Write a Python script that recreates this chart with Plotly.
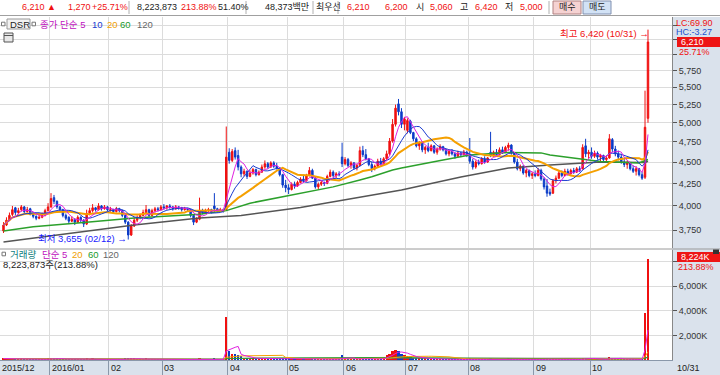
import plotly.graph_objects as go
import pandas as pd
import numpy as np

# ---------------- data ----------------
month_labels = ["2015/12", "2016/01", "02", "03", "04", "05", "06", "07", "08", "09", "10"]
month_days = [16, 20, 18, 22, 20, 19, 21, 21, 22, 19, 20]
last_label = "10/31"

opens = [3740,3800,3850,3910,3980,3930,3960,3990,3940,3970,3910,3890,3870,3880,3900,3950,
         3990,4090,4050,3990,3960,3900,3880,3840,3860,3830,3880,3850,3810,3920,3950,3980,3960,4000,3970,3990,
         3950,3960,3940,3970,3950,3900,3830,3700,3790,3850,3880,3900,3930,3960,3900,3950,3970,3960,
         3990,3980,4000,3990,3970,3990,3980,3960,3970,3960,3900,3830,3860,3950,3930,3950,3960,4000,3970,3950,3960,3960,
         4620,4520,4640,4580,4440,4360,4390,4330,4370,4410,4350,4380,4440,4480,4440,4490,4450,4430,4350,4230,
         4200,4180,4240,4220,4260,4300,4280,4340,4400,4310,4210,4240,4260,4250,4330,4380,4340,4360,4560,
         4480,4530,4460,4490,4430,4460,4640,4590,4540,4470,4420,4450,4510,4480,4540,4600,4760,4980,5260,5150,4980,
         4900,5020,4870,4790,4700,4740,4650,4680,4640,4700,4620,4660,4690,4650,4600,4630,4600,4570,4610,4590,4620,
         4580,4510,4440,4500,4480,4540,4500,4620,4580,4620,4590,4650,4620,4680,4710,4610,4500,4420,4450,4370,4400,4340,
         4360,4340,4400,4300,4220,4150,4140,4280,4310,4370,4340,4390,4360,4400,4380,4420,4420,4700,4600,
         4620,4570,4610,4560,4580,4530,4550,4780,4660,4600,4560,4500,4470,4490,4420,4390,4420,4350,4320,5060]
highs = [3830,3880,3930,4000,3990,3980,4010,4000,3990,3980,3930,3900,3910,3930,3970,4030,
         4140,4120,4060,4000,3970,3920,3890,3890,3870,3900,3890,3860,3960,3980,4020,3990,4030,4010,4010,4000,
         3990,3970,3990,3980,3960,3910,3840,3810,3880,3900,3920,3960,4010,3970,3970,3990,3990,4010,
         4020,4010,4020,4000,4010,4000,3990,3990,3980,3970,3910,3880,4090,3970,3970,3980,3970,4140,3980,3980,3970,4950,
         4670,4660,4680,4650,4460,4420,4400,4400,4430,4420,4400,4470,4520,4500,4510,4510,4490,4440,4360,4290,
         4240,4260,4270,4280,4320,4350,4360,4440,4420,4320,4260,4280,4270,4350,4410,4400,4380,4390,4740,
         4560,4550,4510,4500,4480,4690,4700,4660,4550,4500,4470,4540,4550,4560,4640,4800,5050,5250,5330,5200,5080,
         5060,5040,4880,4810,4760,4760,4700,4740,4720,4710,4680,4720,4700,4660,4650,4660,4620,4640,4630,4650,4640,
         4800,4540,4520,4530,4560,4570,4560,4880,4640,4660,4680,4690,4700,4740,4720,4620,4540,4470,4460,4420,4410,4380,
         4400,4430,4420,4320,4300,4190,4300,4340,4400,4400,4420,4420,4420,4430,4440,4450,4720,4790,4650,
         4680,4640,4630,4600,4590,4580,4850,4800,4700,4640,4600,4540,4520,4500,4460,4450,4430,4380,5450,6420]
lows = [3720,3790,3840,3890,3900,3910,3940,3920,3930,3900,3870,3850,3860,3870,3890,3940,
        3980,4020,3970,3940,3880,3850,3810,3830,3800,3820,3830,3780,3800,3900,3930,3940,3950,3950,3960,3940,
        3940,3920,3930,3930,3880,3810,3655,3690,3780,3830,3860,3890,3920,3880,3890,3930,3940,3950,
        3960,3960,3970,3950,3960,3960,3940,3950,3940,3880,3800,3820,3850,3910,3920,3930,3920,3930,3930,3940,3930,3950,
        4480,4500,4530,4400,4320,4330,4300,4320,4350,4330,4340,4370,4420,4420,4430,4430,4410,4330,4200,4150,
        4130,4170,4190,4210,4250,4260,4270,4330,4300,4190,4180,4220,4220,4240,4320,4320,4310,4330,4440,
        4460,4440,4420,4410,4400,4450,4560,4520,4450,4380,4400,4440,4460,4470,4530,4580,4740,4950,5100,4930,4900,
        4860,4850,4760,4680,4650,4620,4600,4620,4630,4600,4590,4640,4630,4580,4570,4580,4540,4560,4560,4580,4560,
        4480,4410,4420,4460,4470,4480,4490,4560,4560,4570,4580,4600,4610,4640,4590,4480,4400,4390,4350,4320,4320,4300,
        4320,4330,4280,4180,4100,4110,4130,4250,4300,4320,4330,4340,4350,4360,4370,4380,4410,4560,4540,
        4540,4550,4530,4500,4510,4510,4540,4620,4570,4520,4480,4440,4420,4400,4370,4340,4330,4290,4300,5000]
closes = [3800,3850,3900,3960,3930,3950,3990,3940,3960,3910,3890,3870,3880,3900,3950,3990,
          4080,4050,3990,3960,3900,3870,3840,3860,3830,3880,3850,3810,3920,3950,3980,3960,4000,3970,3990,3960,
          3960,3940,3970,3950,3900,3830,3700,3790,3850,3880,3900,3930,3960,3900,3950,3970,3960,3990,
          3980,4000,3990,3970,3990,3980,3960,3970,3960,3900,3830,3860,3950,3930,3950,3960,3940,3970,3950,3960,3940,4560,
          4520,4630,4560,4440,4360,4390,4330,4370,4410,4350,4380,4440,4480,4440,4490,4450,4430,4350,4230,4200,
          4180,4240,4220,4260,4300,4280,4340,4400,4310,4210,4240,4260,4250,4330,4380,4340,4360,4350,4480,
          4530,4460,4490,4430,4460,4640,4590,4540,4470,4420,4450,4510,4480,4540,4600,4760,4980,5200,5150,4980,5050,
          5030,4870,4790,4700,4740,4650,4680,4640,4700,4620,4660,4690,4650,4600,4630,4600,4570,4610,4590,4620,4580,
          4510,4440,4500,4480,4540,4500,4550,4580,4620,4590,4650,4620,4680,4710,4610,4500,4420,4450,4370,4400,4340,4360,
          4340,4400,4300,4210,4140,4130,4280,4310,4370,4340,4390,4360,4400,4380,4420,4400,4680,4600,4620,
          4570,4610,4560,4580,4530,4550,4790,4660,4600,4560,4500,4470,4490,4420,4390,4420,4350,4310,4940,6210]
volumes_k = [120,90,100,130,80,60,90,70,50,60,50,40,40,50,70,90,
             180,120,90,70,80,60,70,50,60,60,50,70,130,80,90,50,70,50,50,40,
             40,40,50,40,60,90,180,120,90,70,50,60,90,70,60,50,40,50,
             50,40,40,40,50,40,40,30,30,60,80,50,110,50,40,40,30,90,40,30,40,3470,
             700,500,450,400,300,200,180,150,140,120,100,130,150,100,110,90,80,100,140,120,
             100,80,60,60,70,60,80,110,90,110,70,50,50,70,80,60,50,50,400,
             150,100,80,70,60,200,150,100,80,70,60,80,60,250,400,500,700,800,750,500,400,
             350,300,200,180,150,150,100,100,90,80,70,80,60,60,50,50,50,50,40,50,40,
             120,80,60,50,60,40,50,150,60,50,70,50,60,90,60,70,60,50,50,40,40,40,
             40,50,60,70,100,60,90,60,70,50,60,40,50,40,50,40,200,180,100,
             80,60,60,50,40,50,250,150,100,80,70,60,50,50,50,40,50,60,3845,8223.873]

# 60- and 120-day averages need history before the window
ma60_idx = [0, 10, 27, 44, 66, 75, 83, 97, 111, 120, 124, 131, 134, 148, 157, 170, 181, 184, 192, 201, 214, 217]
ma60_val = [3740, 3783, 3825, 3872, 3913, 3950, 4030, 4118, 4210, 4288, 4326, 4405, 4428, 4525, 4587, 4616,
            4612, 4587, 4550, 4506, 4490, 4530]
ma120_idx = [0, 44, 66, 80, 100, 130, 134, 154, 170, 184, 201, 216, 217]
ma120_val = [3632, 3800, 3872, 3900, 3983, 4151, 4175, 4323, 4428, 4465, 4502, 4495, 4510]

price_ticks = [3750, 4000, 4250, 4500, 4750, 5000, 5250, 5500, 5750, 6000, 6250, 6500]
vol_ticks = [2000, 4000, 6000, 8000]

# ---------------- derived ----------------
n = len(closes)
idx = np.arange(n)
month_start = np.cumsum([0] + month_days[:-1])
cl = pd.Series(closes, dtype=float)
ma5 = cl.rolling(5, min_periods=1).mean()
ma10 = cl.rolling(10, min_periods=1).mean()
ma20 = cl.rolling(20, min_periods=1).mean()
vol = pd.Series(volumes_k, dtype=float) * 1000
vma5 = vol.rolling(5, min_periods=1).mean()
vma20 = vol.rolling(20, min_periods=1).mean()
vma60 = vol.rolling(60, min_periods=1).mean()
vma120 = vol.rolling(120, min_periods=1).mean()

RED = "#f01010"
BLUE = "#0b3cc8"
FONT = "Liberation Sans, Arial, Noto Sans CJK KR, sans-serif"

W, H = 720, 375
ML, MR, MT, MB = 0, 48, 17, 15
PW = W - ML - MR
PB = H - MB
PH = H - MT - MB


def fx(x):
    return (x - ML) / PW


def fy(y):
    return (PB - y) / PH


fig = go.Figure()

fig.add_trace(go.Candlestick(
    x=idx, open=opens, high=highs, low=lows, close=closes,
    increasing=dict(line=dict(color=RED, width=1), fillcolor=RED),
    decreasing=dict(line=dict(color=BLUE, width=1), fillcolor=BLUE),
    whiskerwidth=0, xaxis="x2", yaxis="y2", showlegend=False, hoverinfo="skip"))

fig.add_trace(go.Scatter(x=ma120_idx, y=ma120_val, mode="lines", line=dict(color="#555555", width=1.5),
                         xaxis="x2", yaxis="y2", showlegend=False, hoverinfo="skip"))
fig.add_trace(go.Scatter(x=ma60_idx, y=ma60_val, mode="lines", line=dict(color="#2ca02c", width=1.5),
                         xaxis="x2", yaxis="y2", showlegend=False, hoverinfo="skip"))
fig.add_trace(go.Scatter(x=idx, y=ma20, mode="lines", line=dict(color="#f5a000", width=2),
                         xaxis="x2", yaxis="y2", showlegend=False, hoverinfo="skip"))
fig.add_trace(go.Scatter(x=idx, y=ma10, mode="lines", line=dict(color="#1a3cd0", width=1),
                         xaxis="x2", yaxis="y2", showlegend=False, hoverinfo="skip"))
fig.add_trace(go.Scatter(x=idx, y=ma5, mode="lines", line=dict(color="#e020e0", width=1),
                         xaxis="x2", yaxis="y2", showlegend=False, hoverinfo="skip"))

vcol = [RED if c >= o else BLUE for o, c in zip(opens, closes)]
fig.add_trace(go.Bar(x=idx, y=vol, marker=dict(color=vcol, line=dict(width=0)), width=0.75,
                     xaxis="x", yaxis="y", showlegend=False, hoverinfo="skip"))
for s, c in [(vma120, "#666666"), (vma60, "#2ca02c"), (vma20, "#f5a000"), (vma5, "#e020e0")]:
    fig.add_trace(go.Scatter(x=idx, y=s, mode="lines", line=dict(color=c, width=1),
                             xaxis="x", yaxis="y", showlegend=False, hoverinfo="skip"))

xmin = -3.5 / 2.97
xmax = xmin + PW / 2.97
grid_x = [int(m) - 0.5 for m in month_start[1:]]
GRID = "#dcdcdc"
TICKFONT = dict(family=FONT, size=9, color="#333")

fig.update_layout(
    width=W, height=H, margin=dict(l=ML, r=MR, t=MT, b=MB),
    paper_bgcolor="white", plot_bgcolor="white", bargap=0,
    xaxis=dict(domain=[0, 1], anchor="y", range=[xmin, xmax], tickvals=grid_x, showticklabels=False,
               ticks="outside", ticklen=15, tickcolor="#8a98aa", tickwidth=1,
               showgrid=True, gridcolor=GRID, gridwidth=1, zeroline=False,
               showline=True, linecolor="#8a98aa", linewidth=1),
    xaxis2=dict(domain=[0, 1], anchor="y2", matches="x", tickvals=grid_x, showticklabels=False,
                ticks="", showgrid=True, gridcolor=GRID, gridwidth=1, zeroline=False,
                rangeslider=dict(visible=False), showline=False),
    yaxis=dict(domain=[0, fy(250)], side="right", range=[0, (PB - 250) / 12.3 * 1e6],
               tickvals=[v * 1000 for v in vol_ticks],
               ticktext=[f"{v:,}K" if v < 8000 else "" for v in vol_ticks],
               ticks="outside", ticklen=4, tickcolor="#555", tickfont=TICKFONT,
               showgrid=True, gridcolor=GRID, zeroline=False, showline=True, linecolor="#888", linewidth=1),
    yaxis2=dict(domain=[fy(248), 1], side="right", type="log",
                range=[np.log10(3750 * np.exp(-(248 - 230) / 372.7)), np.log10(3750 * np.exp((230 - 17) / 372.7))],
                tickvals=price_ticks, ticktext=[f"{v:,}" if v < 6000 else "" for v in price_ticks],
                ticks="outside", ticklen=4, tickcolor="#555", tickfont=TICKFONT,
                showgrid=True, gridcolor=GRID, zeroline=False, showline=True, linecolor="#888", linewidth=1),
)

shapes = []
BAND = "#dae2ec"
shapes.append(dict(type="rect", xref="paper", yref="paper", x0=1, x1=W / PW, y0=fy(375), y1=fy(17),
                   fillcolor=BAND, line=dict(width=0), layer="below"))
shapes.append(dict(type="rect", xref="paper", yref="paper", x0=0, x1=1, y0=fy(375), y1=fy(360),
                   fillcolor=BAND, line=dict(width=0), layer="below"))
shapes.append(dict(type="line", xref="paper", yref="paper", x0=0, x1=W / PW, y0=fy(249), y1=fy(249),
                   line=dict(color="#9a9a9a", width=1)))
shapes.append(dict(type="line", xref="paper", yref="paper", x0=0, x1=W / PW, y0=fy(15.5), y1=fy(15.5),
                   line=dict(color="#a0a0a0", width=1)))
for sx in [129, 246, 313, 338, 549]:
    shapes.append(dict(type="line", xref="paper", yref="paper", x0=fx(sx), x1=fx(sx), y0=fy(1), y1=fy(14),
                       line=dict(color="#b0b0b0", width=1)))
shapes.append(dict(type="rect", xref="paper", yref="paper", x0=fx(553), x1=fx(581), y0=fy(14), y1=fy(1),
                   fillcolor="#f5d2d2", line=dict(color="#b08080", width=1)))
shapes.append(dict(type="rect", xref="paper", yref="paper", x0=fx(583), x1=fx(611), y0=fy(14), y1=fy(1),
                   fillcolor="#d2e2f5", line=dict(color="#8090b0", width=1)))
shapes.append(dict(type="rect", xref="paper", yref="paper", x0=fx(7), x1=fx(30), y0=fy(29), y1=fy(19),
                   fillcolor="#f2f2f2", line=dict(color="#999", width=1)))
for (sx, sy) in [(1.5, 24), (32, 24), (2, 254)]:
    shapes.append(dict(type="rect", xref="paper", yref="paper", x0=fx(sx), x1=fx(sx + 3.5), y0=fy(sy + 1.8),
                       y1=fy(sy - 1.8), fillcolor="white", line=dict(color="#777", width=1)))
shapes.append(dict(type="rect", xref="paper", yref="paper", x0=fx(4), x1=fx(13), y0=fy(42), y1=fy(33),
                   fillcolor="#e8e8e8", line=dict(color="#555", width=1)))
shapes.append(dict(type="line", xref="paper", yref="paper", x0=fx(4), x1=fx(13), y0=fy(35.5), y1=fy(35.5),
                   line=dict(color="#555", width=1)))
shapes.append(dict(type="rect", xref="paper", yref="paper", x0=fx(677), x1=fx(720), y0=fy(47), y1=fy(37),
                   fillcolor="#ee1515", line=dict(width=0)))
shapes.append(dict(type="rect", xref="paper", yref="paper", x0=fx(677), x1=fx(720), y0=fy(262), y1=fy(252),
                   fillcolor="#ee1515", line=dict(width=0)))
shapes.append(dict(type="rect", xref="paper", yref="paper", x0=fx(713), x1=fx(719), y0=fy(254), y1=fy(249.5),
                   fillcolor="#333", line=dict(width=0)))
fig.update_layout(shapes=shapes)

ann = []


def add(x, y, text, color="#222", size=10, anchor="left"):
    ann.append(dict(xref="paper", yref="paper", x=fx(x), y=fy(y), text=text, showarrow=False,
                    xanchor=anchor, yanchor="middle", borderpad=0,
                    font=dict(family=FONT, size=size, color=color)))


# header
HS = 9
add(21, 7.5, "6,210 ▲", RED, HS)
add(67, 7.5, "1,270", RED, HS)
add(91, 7.5, "+25.71%", RED, HS)
add(136, 7.5, "8,223,873", "#222", HS)
add(180, 7.5, "213.88%", RED, HS)
add(217, 7.5, "51.40%", "#222", HS)
add(264, 7.5, "48,373백만", "#222", HS)
add(315, 7.5, "최우선", "#222", HS)
add(346, 7.5, "6,210", RED, HS)
add(384, 7.5, "6,200", RED, HS)
add(415, 7.5, "시", "#222", HS)
add(429, 7.5, "5,060", RED, HS)
add(459, 7.5, "고", "#222", HS)
add(474, 7.5, "6,420", RED, HS)
add(504, 7.5, "저", "#222", HS)
add(519, 7.5, "5,000", RED, HS)
add(567, 7.5, "매수", "#222", HS, anchor="center")
add(597, 7.5, "매도", "#222", HS, anchor="center")

# price legend
LS = 9.5
add(8.5, 24, "DSR", "#222", LS)
add(39, 24, "종가 단순 5", "#c010c0", LS)
add(91, 24, "10", "#1a3cd0", LS)
add(106, 24, "20", "#f0a000", LS)
add(119, 24, "60", "#1a9a2a", LS)
add(136, 24, "120", "#666", LS)

add(559, 33.5, "최고 6,420 (10/31) →", RED, 9.5)
add(37, 238, "최저 3,655 (02/12) →", "#1a1aff", 9.5)

# right column labels
add(675, 23, "LC:69.90", RED, 9)
add(675, 32, "HC:-3.27", "#1a50d0", 9)
add(680, 42, "6,210", "white", 9)
add(678, 52, "25.71%", RED, 9)
add(680, 257, "8,224K", "white", 9)
add(677, 266.5, "213.88%", RED, 9)

# volume legend
add(9, 254, "거래량", "#108080", LS)
add(41, 254, "단순 5", "#c010c0", LS)
add(71, 254, "20", "#f0a000", LS)
add(87, 254, "60", "#1a9a2a", LS)
add(102, 254, "120", "#666", LS)
add(2, 264, "8,223,873주(213.88%)", "#222", LS)

# date labels
add(1, 367.5, month_labels[0], "#222", 9)
xscale = PW / (xmax - xmin)
for lab, m in zip(month_labels[1:], month_start[1:]):
    px = (m - 0.5 - xmin) * xscale
    add(px + 1, 367.5, lab, "#222", 9)
add(676, 367.5, last_label, "#222", 9)

fig.update_layout(annotations=ann)
fig.write_html("out.html", config={"displayModeBar": False},
               post_script="document.body.style.margin='0px';document.body.style.padding='0px';")
